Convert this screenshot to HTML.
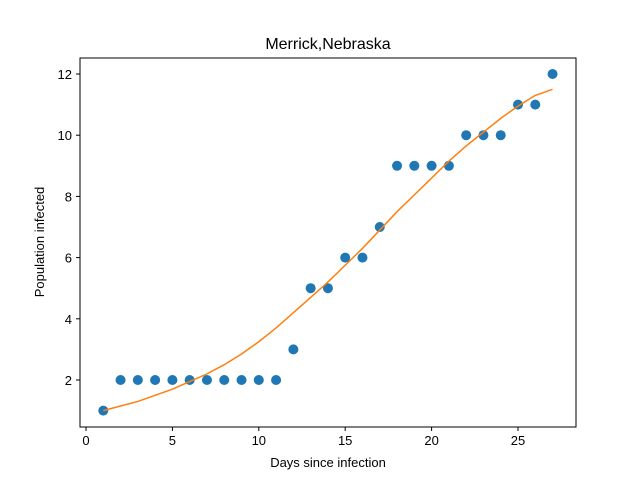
<!DOCTYPE html>
<html><head><meta charset="utf-8"><style>
body{margin:0;background:#fff}
svg{display:block;font-family:"Liberation Sans","DejaVu Sans",sans-serif}
</style></head><body>
<svg id="c" width="640" height="480"></svg>
<script>
const days=[1,2,3,4,5,6,7,8,9,10,11,12,13,14,15,16,17,18,19,20,21,22,23,24,25,26,27];
const infected=[1,2,2,2,2,2,2,2,2,2,2,3,5,5,6,6,7,9,9,9,9,10,10,10,11,11,12];
const fitted=[1.0,1.15,1.3,1.5,1.7,1.95,2.2,2.5,2.85,3.25,3.7,4.2,4.7,5.2,5.75,6.3,6.9,7.5,8.05,8.6,9.15,9.65,10.1,10.55,10.95,11.3,11.5];
const xTicks=[0,5,10,15,20,25];
const yTicks=[2,4,6,8,10,12];
const NS="http://www.w3.org/2000/svg";
const svg=document.getElementById('c');
const X=v=>86+v*17.28, Y=v=>380-(v-2)*30.6;
function mk(t,a,p){const e=document.createElementNS(NS,t);for(const k in a)e.setAttribute(k,a[k]);(p||svg).appendChild(e);return e;}
let t=mk('text',{x:328,y:49,'text-anchor':'middle','font-size':16});t.textContent='Merrick,Nebraska';


xTicks.forEach(v=>{mk('line',{x1:X(v),x2:X(v),y1:427,y2:431,stroke:'#000'});
 const l=mk('text',{x:X(v),y:445,'text-anchor':'middle','font-size':13});l.textContent=v;
 
 });
yTicks.forEach(v=>{mk('line',{x1:76,x2:80,y1:Y(v),y2:Y(v),stroke:'#000'});
 const l=mk('text',{x:72,y:Y(v)+5,'text-anchor':'end','font-size':13});l.textContent=v;
 
 });
t=mk('text',{x:328,y:467,'text-anchor':'middle','font-size':13});t.textContent='Days since infection';


t=mk('text',{x:44,y:242,'text-anchor':'middle','font-size':13,transform:'rotate(-90 44 242)'});t.textContent='Population infected';


days.forEach((d,i)=>{const c=mk('circle',{cx:X(d),cy:Y(infected[i]),r:5,fill:'#1f77b4'});
 
 });
const p=mk('polyline',{points:days.map((d,i)=>X(d)+','+Y(fitted[i])).join(' '),fill:'none',stroke:'#ff7f0e','stroke-width':1.5});


const f=mk('rect',{x:80,y:58,width:496,height:369,fill:'none',stroke:'#000','stroke-width':1});


</script>
</body></html>
